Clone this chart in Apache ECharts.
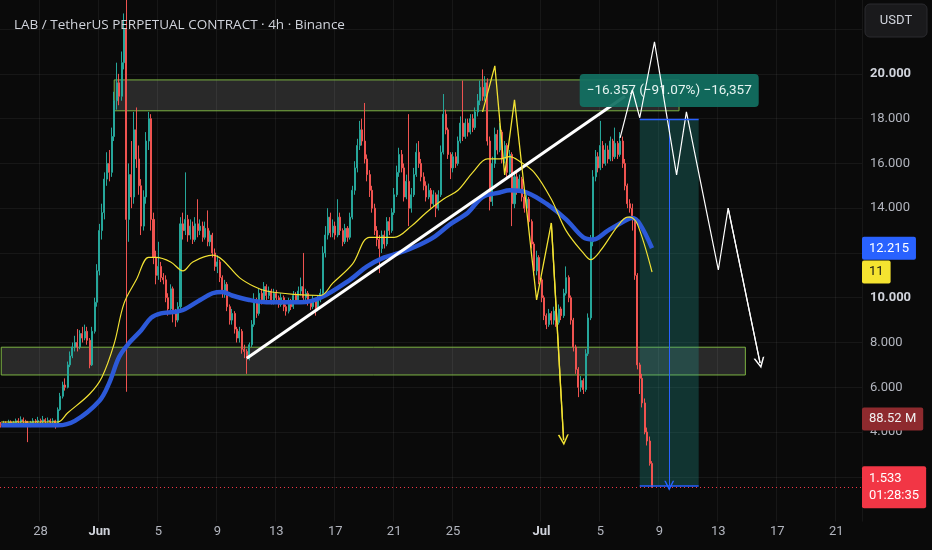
<!DOCTYPE html>
<html><head><meta charset="utf-8">
<script src="https://cdn.jsdelivr.net/npm/echarts@6/dist/echarts.min.js"></script>
<style>html,body{margin:0;padding:0;background:#0a0a0a;}#c{width:932px;height:550px;}</style>
</head><body><div id="c"></div>
<script>
// ---------- data ----------
const titleText = 'LAB / TetherUS PERPETUAL CONTRACT · 4h · Binance';
const quoteCurrency = 'USDT';
const firstBarUTC = Date.UTC(2025, 4, 25, 8, 0); // May 25 08:00, 4h bars
const slotCount = 351; // bars + empty future slots
const xTickDates = ['05-28','06-01','06-05','06-09','06-13','06-17','06-21','06-25','07-01','07-05','07-09','07-13','07-17','07-21'];
const xTickLabels = ['28','Jun','5','9','13','17','21','25','Jul','5','9','13','17','21'];
const yTickValues = [4, 6, 8, 10, 12, 14, 16, 18, 20];
const yTickLabels = ['4.000','6.000','8.000','10.000','12.000','14.000','16.000','18.000','20.000'];

// [open, close, low, high] per 4h bar
const candles = [
[4.35,4.30,4.20,4.45],[4.30,4.40,4.25,4.50],[4.40,4.35,4.28,4.48],[4.35,4.45,4.30,4.55],[4.45,4.38,4.30,4.52],
[4.38,4.42,4.32,4.50],[4.42,4.50,4.36,4.60],[4.50,4.45,4.38,4.62],[4.45,4.55,4.40,4.70],[4.55,4.48,4.40,4.65],
[4.48,4.40,4.30,4.55],[4.40,4.30,3.55,4.50],[4.30,4.42,4.22,4.50],[4.42,4.50,4.35,4.62],[4.50,4.45,4.38,4.58],
[4.45,4.52,4.38,4.68],[4.52,4.46,4.40,4.60],[4.46,4.55,4.40,4.72],[4.55,4.48,4.40,4.62],[4.48,4.52,4.42,4.65],
[4.52,4.45,4.38,4.60],[4.45,4.50,4.38,4.62],[4.50,4.35,4.15,4.55],[4.35,5.00,4.30,5.10],[5.00,5.60,4.95,5.75],
[5.60,6.10,5.50,6.25],[6.10,6.00,5.85,6.40],[6.00,7.00,5.95,7.15],[7.00,7.40,6.90,7.60],[7.40,7.80,7.30,8.00],
[7.80,8.00,7.60,8.30],[8.00,7.80,7.60,8.60],[7.80,8.40,7.70,8.55],[8.40,8.20,8.00,8.70],[8.20,8.50,8.10,8.80],
[8.50,8.10,7.90,8.70],[8.10,7.00,6.85,8.20],[7.00,8.50,6.95,8.70],[8.50,9.80,8.40,10.00],[9.80,11.20,9.60,11.50],
[11.20,13.00,11.00,13.30],[13.00,13.80,12.60,14.20],[13.80,15.30,13.50,15.60],[15.30,16.00,15.00,16.50],[16.00,15.60,15.20,16.60],
[15.60,17.20,15.40,17.60],[17.20,18.80,17.00,19.20],[18.80,19.60,18.40,20.50],[19.60,19.00,18.60,20.00],[19.00,20.50,18.80,21.00],
[20.50,22.00,20.20,22.70],[22.00,13.50,5.80,24.50],[13.50,15.50,12.50,16.00],[15.50,14.50,14.00,17.00],[14.50,17.50,14.20,18.30],
[17.50,16.20,15.80,18.50],[16.20,15.00,14.60,16.80],[15.00,13.20,12.80,15.30],[13.20,14.50,13.00,14.80],[14.50,17.00,14.20,17.40],
[17.00,18.00,16.60,18.30],[18.00,13.50,13.00,18.20],[13.50,11.80,11.50,13.80],[11.80,11.00,10.60,12.10],[11.00,11.40,10.80,12.50],
[11.40,10.90,10.70,11.60],[10.90,10.80,10.60,11.10],[10.80,10.00,9.80,11.00],[10.00,9.50,9.20,10.20],[9.50,10.40,9.40,10.60],
[10.40,9.30,8.90,10.50],[9.30,9.00,8.70,9.50],[9.00,9.60,8.90,9.80],[9.60,13.30,9.50,13.60],[13.30,13.00,12.60,13.80],
[13.00,13.50,12.80,15.60],[13.50,12.80,12.50,13.70],[12.80,13.20,12.60,13.50],[13.20,12.60,12.40,13.40],[12.60,13.30,12.50,13.60],
[13.30,13.00,12.70,14.40],[13.00,13.20,12.80,13.50],[13.20,12.70,12.50,13.40],[12.70,13.10,12.60,13.40],[13.10,12.50,12.30,13.90],
[12.50,12.80,12.30,13.00],[12.80,12.00,11.80,12.90],[12.00,11.40,11.20,12.20],[11.40,11.60,11.10,11.90],[11.60,10.90,10.70,11.70],
[10.90,10.20,10.00,11.00],[10.20,10.60,10.00,10.80],[10.60,9.60,9.40,10.70],[9.60,9.00,8.80,9.70],[9.00,9.30,8.80,9.50],
[9.30,8.60,8.40,9.40],[8.60,8.20,8.00,8.70],[8.20,8.50,8.00,8.70],[8.50,7.70,7.50,8.60],[7.70,7.60,7.30,7.90],
[7.60,7.30,6.60,7.70],[7.30,7.90,7.20,8.00],[7.90,8.80,7.80,9.00],[8.80,9.80,8.70,10.20],[9.80,9.30,9.10,10.00],
[9.30,10.20,9.20,10.40],[10.20,9.90,9.70,10.40],[9.90,10.50,9.80,10.70],[10.50,10.10,9.90,10.60],[10.10,10.30,9.95,10.50],
[10.30,9.80,9.70,10.40],[9.80,10.20,9.70,10.40],[10.20,10.00,9.85,10.35],[10.00,9.70,9.55,10.10],[9.70,10.00,9.60,10.20],
[10.00,9.60,9.40,10.10],[9.60,9.40,9.20,9.70],[9.40,9.80,9.30,10.00],[9.80,9.60,9.45,9.95],[9.60,10.10,9.50,10.30],
[10.10,9.90,9.75,10.25],[9.90,10.30,9.80,10.50],[10.30,10.50,10.10,10.90],[10.50,10.00,9.90,12.00],[10.00,10.20,9.85,10.40],
[10.20,9.80,9.65,10.30],[9.80,9.60,9.45,9.90],[9.60,9.90,9.50,10.10],[9.90,9.50,9.20,10.00],[9.50,9.90,9.40,10.10],
[9.90,10.20,9.80,10.40],[10.20,12.00,10.10,12.30],[12.00,12.80,11.80,13.20],[12.80,13.60,12.60,14.00],[13.60,12.90,12.70,13.80],
[12.90,13.20,12.70,13.50],[13.20,12.80,12.60,13.40],[12.80,13.60,12.70,14.40],[13.60,13.00,12.80,13.80],[13.00,12.50,12.30,13.10],
[12.50,13.10,12.40,13.30],[13.10,12.70,12.50,13.20],[12.70,13.60,12.60,13.80],[13.60,14.80,13.50,15.00],[14.80,15.80,14.60,16.10],
[15.80,16.80,15.60,17.10],[16.80,17.50,16.60,17.90],[17.50,17.00,16.80,18.00],[17.00,16.20,16.00,18.70],[16.20,15.50,15.20,16.40],
[15.50,14.80,14.50,15.70],[14.80,14.00,13.80,15.00],[14.00,13.00,12.80,14.20],[13.00,12.60,12.30,13.20],[12.60,12.20,11.10,12.80],
[12.20,12.80,12.00,13.00],[12.80,12.40,12.20,13.00],[12.40,13.40,12.30,13.60],[13.40,13.00,12.80,13.60],[13.00,13.80,12.90,14.00],
[13.80,14.60,13.70,14.90],[14.60,15.60,14.50,15.90],[15.60,16.40,15.40,16.70],[16.40,15.80,15.60,16.60],[15.80,14.50,14.30,16.00],
[14.50,15.20,14.40,15.50],[15.20,14.00,13.20,18.20],[14.00,14.60,13.80,14.90],[14.60,15.50,14.50,15.80],[15.50,16.50,15.40,16.90],
[16.50,16.00,15.80,17.00],[16.00,15.40,15.20,16.20],[15.40,15.00,14.80,15.60],[15.00,14.50,14.30,15.20],[14.50,14.80,14.40,15.10],
[14.80,14.20,14.00,14.90],[14.20,14.60,14.10,14.80],[14.60,14.00,13.60,14.70],[14.00,14.60,13.90,14.80],[14.60,16.50,14.50,16.80],
[16.50,18.20,16.40,19.10],[18.20,17.50,17.30,18.40],[17.50,16.40,16.20,17.60],[16.40,15.80,15.30,16.50],[15.80,16.30,15.60,16.50],
[16.30,16.00,15.80,16.50],[16.00,17.00,15.90,17.20],[17.00,17.80,16.90,18.10],[17.80,17.20,17.00,19.70],[17.20,17.80,17.10,18.00],
[17.80,17.40,17.20,18.00],[17.40,18.00,17.30,18.20],[18.00,17.60,17.40,18.20],[17.60,18.30,17.50,18.50],[18.30,18.80,18.10,19.10],
[18.80,19.40,18.60,19.70],[19.40,19.00,18.80,20.20],[19.00,19.60,18.80,19.90],[19.60,17.00,16.80,19.80],[17.00,14.30,13.90,17.20],
[14.30,16.00,14.10,16.30],[16.00,17.30,15.80,17.60],[17.30,16.60,16.40,17.50],[16.60,17.40,16.50,17.80],[17.40,16.20,16.00,17.50],
[16.20,16.80,16.00,17.00],[16.80,15.60,15.40,16.90],[15.60,16.40,15.50,16.60],[16.40,14.20,13.20,16.50],[14.20,15.40,14.00,15.60],
[15.40,14.80,14.60,15.60],[14.80,15.30,14.70,15.50],[15.30,14.50,14.30,15.40],[14.50,14.00,13.80,14.60],[14.00,14.40,13.90,14.60],
[14.40,13.40,13.20,14.50],[13.40,12.40,12.20,13.50],[12.40,11.20,11.00,12.50],[11.20,11.80,11.00,12.10],[11.80,10.80,10.60,11.90],
[10.80,10.00,9.80,10.90],[10.00,9.20,9.00,10.10],[9.20,8.80,8.60,9.30],[8.80,9.30,8.70,9.50],[9.30,9.00,8.80,9.40],
[9.00,9.40,8.80,9.60],[9.40,8.90,8.70,9.50],[8.90,9.50,8.80,9.70],[9.50,9.20,9.00,9.60],[9.20,10.20,9.10,10.40],
[10.20,10.90,10.10,11.40],[10.90,10.00,9.80,11.00],[10.00,9.00,8.80,10.10],[9.00,7.80,7.60,9.10],[7.80,6.80,6.60,7.90],
[6.80,6.00,5.56,6.90],[6.00,6.30,5.80,6.50],[6.30,5.90,5.70,6.40],[5.90,7.50,5.80,7.70],[7.50,9.10,7.40,9.30],
[9.10,12.50,9.00,12.80],[12.50,15.40,12.30,15.70],[15.40,16.30,15.20,16.60],[16.30,15.80,15.60,16.50],[15.80,16.80,15.70,17.90],
[16.80,16.00,15.80,17.00],[16.00,16.60,15.90,16.90],[16.60,16.20,16.00,16.80],[16.20,17.00,16.10,17.20],[17.00,16.30,16.10,17.10],
[16.30,16.90,16.20,17.60],[16.90,16.40,16.20,17.00],[16.40,17.00,16.30,17.40],[17.00,16.00,15.80,17.20],[16.00,15.00,14.80,16.20],
[15.00,14.20,14.00,15.10],[14.20,14.00,13.80,14.40],[14.00,13.50,13.00,14.20],[13.50,11.00,10.80,13.60],[11.00,7.00,6.80,11.10],
[7.00,6.40,5.70,7.10],[6.40,5.30,5.10,6.60],[5.30,4.00,3.90,5.50],[4.00,3.60,3.40,4.20],[3.60,2.60,2.50,3.80],
[2.60,1.533,1.533,2.70]
];

// moving averages: [bar index, value]
const maSlow = [[0,4.3],[23,4.3],[30,4.5],[40,5.4],[44,6.2],[48,7.35],[52,7.97],[57,8.55],[61,9.1],[65,9.3],[70,9.36],[74,9.45],
  [81,9.9],[86,10.2],[90,10.26],[94,10.1],[101,9.9],[108,9.8],[122,9.8],[130,10.0],[142,10.8],[149,11.4],[156,11.8],[162,12.0],
  [169,12.3],[176,12.7],[183,13.3],[190,13.8],[196,14.5],[203,14.7],[207,14.8],[214,14.7],[222,14.2],[230,13.5],[237,12.7],
  [241,12.6],[247,13.0],[255,13.5],[257,13.56],[260,13.3],[265,12.215]];
const maFast = [[0,4.45],[23,4.45],[27,4.85],[36,5.7],[41,6.45],[46,7.95],[50,9.75],[55,10.8],[60,11.8],[63,11.8],[69,11.6],
  [74,11.2],[78,11.6],[86,11.9],[90,11.7],[97,10.9],[103,10.5],[108,10.3],[119,10.15],[130,10.1],[135,10.65],[143,11.5],
  [150,12.7],[160,12.7],[167,13.2],[173,13.8],[180,14.4],[186,14.8],[192,15.6],[198,16.2],[203,16.2],[207,16.3],[211,16.1],
  [217,15.6],[224,14.4],[230,13.0],[237,12.0],[240,11.7],[244,12.1],[251,13.2],[255,13.6],[256,13.6],[259,13.3],[265,11.15]];

// drawings
const supplyZone = {from: 46, to: 276, top: 19.73, bottom: 18.35};
const demandZone = {from: 0, to: 303, top: 7.79, bottom: 6.55};
const trendLine = [[100, 7.3], [254, 19.0]];
const yellowPath = [[196,18.3],[201,20.36],[205,15.49],[209,18.84],[218,9.9],[224,13.34],[229,3.64]];
const whitePath = [[252,17.14],[257,19.28],[260,18.04],[266,21.43],[275,15.49],[279,18.3],[292,11.24],[296,14.0],[309,7.08]];
const shortPosition = {from: 260, to: 284, mid: 272, entry: 17.961, target: 1.604, labelAt: 19.26};
const lastCountdown = '01:28:35';
const volumeTag = {text: '88.52 M', at: 4.58};

// ---------- build ----------
function pad(n){return (n<10?'0':'')+n;}
const categories = [];
for (let k = 0; k < slotCount; k++) {
  const d = new Date(firstBarUTC + k * 4 * 3600 * 1000);
  categories.push(pad(d.getUTCMonth()+1) + '-' + pad(d.getUTCDate()) + ' ' + pad(d.getUTCHours()) + ':00');
}
const tickMap = {};
xTickDates.forEach((d, i) => { tickMap[d + ' 00:00'] = xTickLabels[i]; });
const isTick = (idx, val) => tickMap[val] !== undefined;

const UP = '#26a69a', DOWN = '#ef5350';
const chevron = 'path://M0,9L5,0L10,9L8.5,9L5,2.8L1.5,9Z';
const roundBox = 'path://M4,0H175Q179,0 179,4V29Q179,33 175,33H4Q0,33 0,29V4Q0,0 4,0Z';
const lastClose = candles[candles.length-1][1];
const diff = shortPosition.entry - shortPosition.target;
const measureText = '\u2212' + diff.toFixed(3) + ' (\u2212' + (diff / shortPosition.entry * 100).toFixed(2) + '%) \u2212' +
  Math.round(diff * 1000).toLocaleString('en-US');
const tagLabel = (bg, fg) => ({
  show: true, position: 'end', distance: 0, backgroundColor: bg, color: fg,
  padding: [4, 7, 4, 7], borderRadius: 2, fontSize: 13, fontFamily: 'Roboto', lineHeight: 15
});
const hidden = {color: 'rgba(0,0,0,0)', width: 0.1};

const chart = echarts.init(document.getElementById('c'), null, {renderer: 'canvas'});
chart.setOption({
  backgroundColor: '#0a0a0a',
  animation: false,
  title: {
    text: titleText, left: 9, top: 13,
    textStyle: {color: '#d1d4dc', fontSize: 13.5, fontWeight: 'normal', fontFamily: 'Open Sans'}
  },
  graphic: [
    {type: 'rect', shape: {x: 865, y: 4, width: 62, height: 33, r: 5},
     style: {fill: '#1a1a1c', stroke: '#2b2b2f', lineWidth: 1}, z: 10},
    {type: 'text', x: 896, y: 21, z: 11,
     style: {text: quoteCurrency, fill: '#d1d4dc', font: '13px Roboto', textAlign: 'center', textVerticalAlign: 'middle'}}
  ],
  grid: {left: 0, right: 70, top: 0, bottom: 28.4},
  xAxis: {
    type: 'category', data: categories, boundaryGap: true,
    axisLine: {show: false}, axisTick: {show: false},
    axisLabel: {
      interval: isTick, margin: 4, color: '#b2b5be', fontSize: 13, fontFamily: 'Roboto',
      formatter: v => { const t = tickMap[v]; if (t === undefined) return ''; return (t === 'Jun' || t === 'Jul') ? '{b|' + t + '}' : t; },
      rich: {b: {color: '#d1d4dc', fontSize: 13, fontFamily: 'Roboto', fontWeight: 'bold'}}
    },
    splitLine: {show: true, interval: isTick, lineStyle: {color: 'rgba(255,255,255,0.055)', width: 1}}
  },
  yAxis: {
    type: 'value', position: 'right', min: 0, max: 23.3, interval: 2, scale: false,
    axisLine: {show: false}, axisTick: {show: false},
    axisLabel: {
      margin: 8, color: '#b2b5be', fontSize: 13, fontFamily: 'Roboto', showMaxLabel: false, showMinLabel: false,
      formatter: v => { const i = yTickValues.indexOf(v); if (i < 0) return ''; const t = yTickLabels[i];
        return (v === 10 || v === 20) ? '{b|' + t + '}' : t; },
      rich: {b: {color: '#d1d4dc', fontSize: 13, fontFamily: 'Roboto', fontWeight: 'bold'}}
    },
    splitLine: {show: true, showMinLine: false, showMaxLine: false, lineStyle: {color: 'rgba(255,255,255,0.055)', width: 1}}
  },
  series: [
    {
      type: 'candlestick', data: candles, barWidth: '62%', z: 2,
      itemStyle: {color: UP, color0: DOWN, borderColor: UP, borderColor0: DOWN, borderWidth: 1},
      markArea: {
        silent: true,
        data: [
          [{coord: [supplyZone.from, supplyZone.top], itemStyle: {color: 'rgba(255,255,255,0.13)', borderColor: '#7cb342', borderWidth: 1}},
           {coord: [supplyZone.to, supplyZone.bottom]}],
          [{coord: [demandZone.from, demandZone.top], itemStyle: {color: 'rgba(255,255,255,0.13)', borderColor: '#7cb342', borderWidth: 1}},
           {coord: [demandZone.to, demandZone.bottom]}],
          [{coord: [shortPosition.from, shortPosition.entry], itemStyle: {color: 'rgba(38,166,154,0.27)', borderWidth: 0}},
           {coord: [shortPosition.to, shortPosition.target]}]
        ]
      },
      markLine: {
        silent: true, symbol: 'none',
        data: [
          {yAxis: lastClose, lineStyle: {color: '#f23645', type: [1, 3], width: 1},
           label: Object.assign(tagLabel('#f23645', '#ffffff'), {formatter: lastClose.toFixed(3) + '\n' + lastCountdown, lineHeight: 17, padding: [3, 7, 5, 7]})},
          {yAxis: volumeTag.at, lineStyle: hidden,
           label: Object.assign(tagLabel('#8e2a2e', '#f0f0f0'), {formatter: volumeTag.text})}
        ]
      }
    },
    {
      type: 'line', data: maSlow, smooth: 0.35, symbol: 'none', z: 3,
      lineStyle: {color: '#2c59d8', width: 4.5},
      markLine: {
        silent: true, symbol: 'none',
        data: [{yAxis: maSlow[maSlow.length-1][1], lineStyle: hidden,
                label: Object.assign(tagLabel('#2962ff', '#ffffff'), {formatter: maSlow[maSlow.length-1][1].toFixed(3)})}]
      }
    },
    {
      type: 'line', data: maFast, smooth: 0.35, symbol: 'none', z: 3,
      lineStyle: {color: '#f2e233', width: 1.2},
      markLine: {
        silent: true, symbol: 'none',
        data: [{yAxis: maFast[maFast.length-1][1], lineStyle: hidden,
                label: Object.assign(tagLabel('#f5e330', '#131313'), {formatter: String(Math.round(maFast[maFast.length-1][1]))})}]
      }
    },
    {
      type: 'line', data: trendLine, symbol: 'none', z: 4,
      lineStyle: {color: '#ffffff', width: 3}
    },
    {
      type: 'line', data: yellowPath, symbol: 'none', z: 5,
      lineStyle: {color: '#f2e233', width: 1.3},
      markLine: {
        silent: true, symbol: ['none', chevron], symbolSize: 11,
        lineStyle: {color: '#f2e233', width: 1.3, type: 'solid'}, label: {show: false},
        data: [[{coord: yellowPath[yellowPath.length-2]}, {coord: yellowPath[yellowPath.length-1]}]]
      }
    },
    {
      type: 'line', data: whitePath, symbol: 'none', z: 5,
      lineStyle: {color: '#ffffff', width: 1.2},
      markLine: {
        silent: true, symbol: ['none', chevron], symbolSize: 11,
        lineStyle: {color: '#ffffff', width: 1.2, type: 'solid'}, label: {show: false},
        data: [[{coord: whitePath[whitePath.length-2]}, {coord: whitePath[whitePath.length-1]}]]
      }
    },
    {
      type: 'line', symbol: 'none', z: 6,
      data: [[shortPosition.from, shortPosition.entry], [shortPosition.to, shortPosition.entry]],
      lineStyle: {color: '#2962ff', width: 1.5},
      markLine: {
        silent: true, symbol: 'none', label: {show: false},
        data: [
          [{coord: [shortPosition.from, shortPosition.target], lineStyle: {color: '#2962ff', width: 1.5, type: 'solid'}},
           {coord: [shortPosition.to, shortPosition.target]}],
          [{coord: [shortPosition.mid, shortPosition.entry], symbol: 'none', lineStyle: {color: '#2962ff', width: 1, type: 'solid'}},
           {coord: [shortPosition.mid, shortPosition.target], symbol: chevron, symbolSize: 10}]
        ]
      },
      markPoint: {
        silent: true,
        data: [{
          coord: [shortPosition.mid, shortPosition.labelAt], symbol: roundBox, symbolSize: [179, 33], symbolKeepAspect: false,
          itemStyle: {color: 'rgba(18,112,98,0.93)'},
          label: {show: true, position: 'inside', formatter: measureText, color: '#e6f4f1', fontSize: 13.5, fontFamily: 'Roboto'}
        }]
      }
    }
  ]
});
</script></body></html>
